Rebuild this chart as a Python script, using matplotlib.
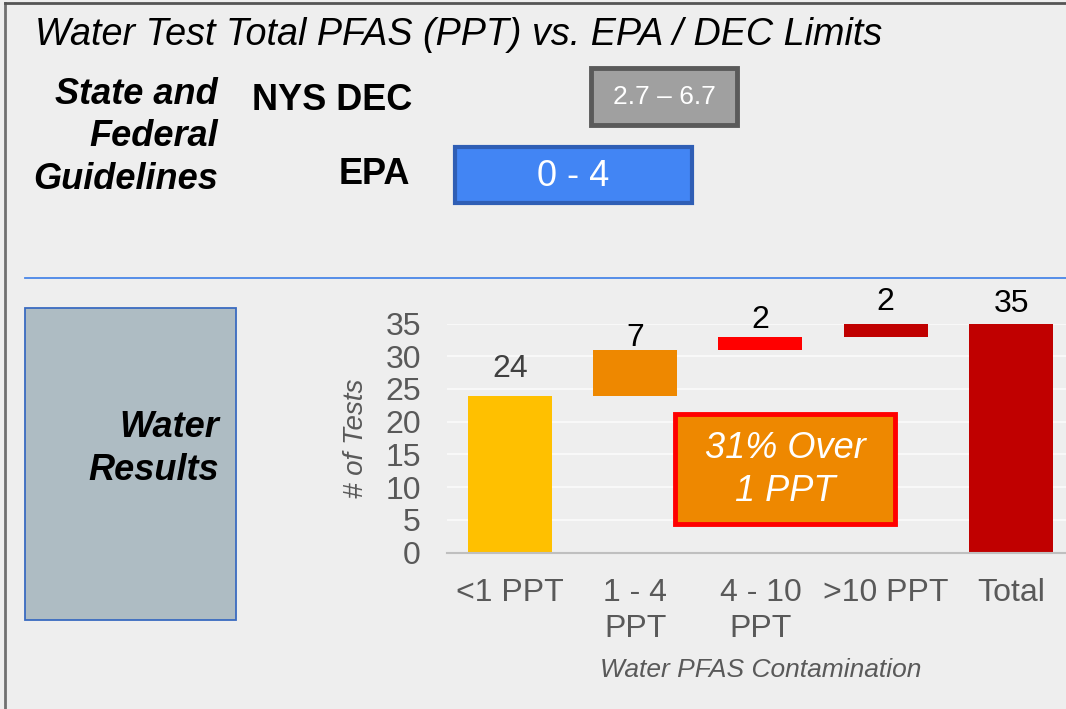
import matplotlib
matplotlib.use("Agg")
import matplotlib.pyplot as plt
from matplotlib.patches import Rectangle

plt.rcParams['font.family'] = ['Liberation Sans', 'DejaVu Sans']

# waterfall data
categories = ['<1 PPT', '1 - 4\nPPT', '4 - 10\nPPT', '>10 PPT', 'Total']
counts = [24, 7, 2, 2, 35]
bases = [0, 24, 31, 33, 0]
bar_colors = ['#FFC000', '#EE8800', '#FF0000', '#C00000', '#C00000']
label_colors = ['#404040', 'black', 'black', 'black', 'black']
label_gap = [13, 3, 6, 10, 8]  # points from bar top to label baseline

# guideline ranges
dec_range = '2.7 – 6.7'
epa_range = '0 - 4'
callout = '31% Over\n1 PPT'

W, H = 1066, 709
fig = plt.figure(figsize=(W / 100, H / 100), dpi=100)
fig.patch.set_facecolor('#EEEEEE')


def fx(x):
    return x / W


def fy(y):
    return 1 - y / H


def box(x0, y0, x1, y1, face, edge, lw):
    r = Rectangle((fx(x0), fy(y1)), (x1 - x0) / W, (y1 - y0) / H,
                  transform=fig.transFigure, facecolor=face, edgecolor=edge,
                  linewidth=lw, zorder=3)
    fig.add_artist(r)


# slide border
fig.add_artist(plt.Line2D([fx(5), fx(5)], [0, fy(3)], transform=fig.transFigure,
                          color='#707070', lw=2))
fig.add_artist(plt.Line2D([fx(5), 1], [fy(3), fy(3)], transform=fig.transFigure,
                          color='#555555', lw=2))

# title
fig.text(fx(35), fy(35), 'Water Test Total PFAS (PPT) vs. EPA / DEC Limits',
         fontsize=27.2, style='italic', ha='left', va='center', color='black')

# guidelines section
fig.text(fx(218), fy(137), 'State and\nFederal\nGuidelines', fontsize=26,
         style='italic', weight='bold', ha='right', va='center', linespacing=1.29)
fig.text(fx(412), fy(101), 'NYS DEC', fontsize=26, weight='bold', ha='right', va='center')
fig.text(fx(410), fy(174), 'EPA', fontsize=26, weight='bold', ha='right', va='center')

box(591, 68, 737, 125, '#A0A0A0', '#5A5A5A', 3.5)
fig.text(fx(664), fy(97), dec_range, fontsize=19, color='white', ha='center',
         va='center', zorder=4)
box(455, 147, 692, 203, '#4285F4', '#2F5EB5', 3)
fig.text(fx(573), fy(176), epa_range, fontsize=26, color='white', ha='center',
         va='center', zorder=4)

# divider
fig.add_artist(plt.Line2D([fx(25), 1], [fy(278), fy(278)], transform=fig.transFigure,
                          color='#4A86E8', lw=1.3))

# water results label
box(25, 308, 236, 620, '#AEBCC3', '#3A6BC0', 1.3)
fig.text(fx(219), fy(449), 'Water\nResults', fontsize=26, style='italic',
         weight='bold', ha='right', va='center', linespacing=1.29, zorder=4)

# chart
ax = fig.add_axes([fx(447.2), fy(552.7), 626.5 / W, (552.7 - 323.5) / H])
ax.set_facecolor('none')
x = range(len(categories))
ax.bar(x, counts, bottom=bases, width=0.67, color=bar_colors, zorder=2)
for i, (c, b) in enumerate(zip(counts, bases)):
    ax.annotate(str(c), (i, b + c), xytext=(0, label_gap[i]), textcoords='offset points',
                ha='center', va='baseline', fontsize=23, color=label_colors[i])

ax.set_xlim(-0.5, 4.5)
ax.set_ylim(0, 35)
ax.set_yticks(range(0, 36, 5))
ax.set_xticks(list(x))
ax.set_xticklabels(categories, linespacing=1.25)
ax.tick_params(axis='y', length=0, pad=19, labelsize=23, labelcolor='#595959')
ax.tick_params(axis='x', length=0, pad=18.5, labelsize=23, labelcolor='#595959')
ax.grid(axis='y', color='#F8F8F8', lw=1.5, zorder=0)
for s in ['top', 'right', 'left']:
    ax.spines[s].set_visible(False)
ax.spines['bottom'].set_color('#BFBFBF')
ax.spines['bottom'].set_linewidth(1.5)

fig.text(fx(356), fy(438), '# of Tests', fontsize=20, style='italic', color='#595959',
         rotation=90, ha='center', va='center')
fig.text(fx(761), fy(670), 'Water PFAS Contamination', fontsize=19, style='italic',
         color='#595959', ha='center', va='center')

# callout
box(675, 414, 895, 524, '#EE8800', '#FF0000', 3.5)
fig.text(fx(785), fy(470), callout, fontsize=26, style='italic', color='white',
         ha='center', va='center', linespacing=1.3, zorder=4)

plt.savefig('out.png', dpi=100, facecolor=fig.get_facecolor())
